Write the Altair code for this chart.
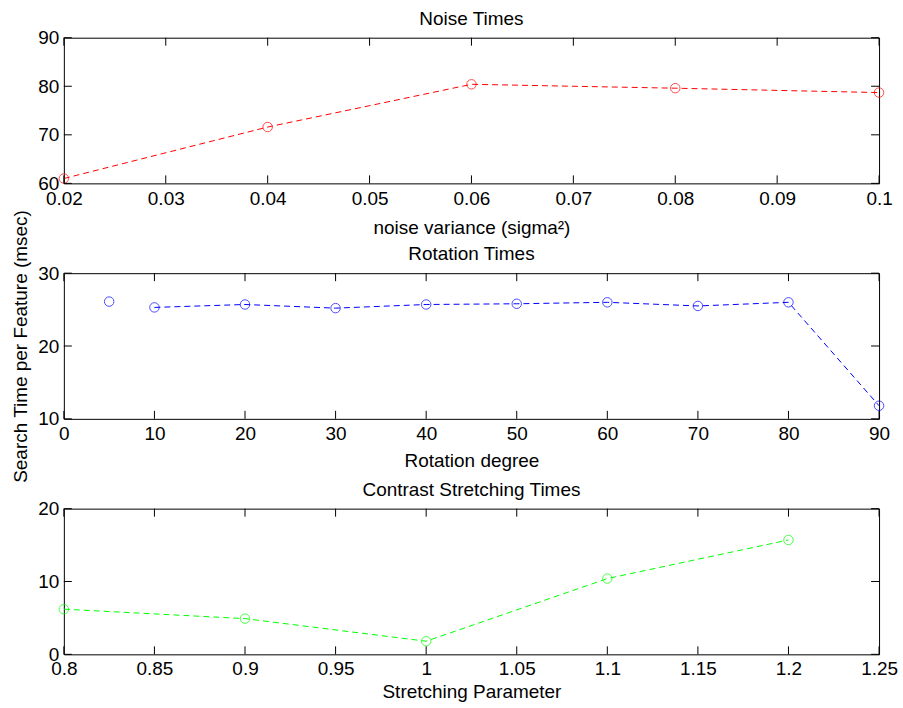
import altair as alt
import pandas as pd

# ---- data ----
noise_x = [0.02, 0.04, 0.06, 0.08, 0.10]
noise_y = [61.0, 71.6, 80.4, 79.6, 78.7]

rot_x = [5, 10, 20, 30, 40, 50, 60, 70, 80, 90]
rot_y = [26.1, 25.3, 25.7, 25.2, 25.7, 25.8, 26.0, 25.5, 26.0, 11.8]

cs_x = [0.8, 0.9, 1.0, 1.1, 1.2]
cs_y = [6.2, 4.9, 1.8, 10.4, 15.7]

noise_xticks = [0.02, 0.03, 0.04, 0.05, 0.06, 0.07, 0.08, 0.09, 0.1]
noise_yticks = [60, 70, 80, 90]
rot_xticks = [0, 10, 20, 30, 40, 50, 60, 70, 80, 90]
rot_yticks = [10, 20, 30]
cs_xticks = [0.8, 0.85, 0.9, 0.95, 1.0, 1.05, 1.1, 1.15, 1.2, 1.25]
cs_yticks = [0, 10, 20]

YTITLE = "Search Time per Feature (msec)"

W, H = 817, 146
GAP = 90
FONT = "Liberation Sans"
FS = 19
TL = 8  # inward tick length
FMT = ".6~g"


def panel(xs, ys, color, title, xtitle, xdom, ydom, xticks, yticks,
          ytitle=None, ytitle_y=0, line_min=None, label_pad=6, title_pad=8):
    df = pd.DataFrame({"x": xs, "y": ys})
    xsc = alt.Scale(domain=xdom, nice=False, zero=False)
    ysc = alt.Scale(domain=ydom, nice=False, zero=False)
    xaxis = alt.Axis(values=xticks, format=FMT, title=xtitle, grid=False,
                     ticks=False, domain=False, labelPadding=label_pad,
                     titlePadding=title_pad, labelFlush=False)
    if ytitle:
        yaxis = alt.Axis(values=yticks, format=FMT, title=ytitle, grid=False,
                         ticks=False, domain=False, labelPadding=5,
                         titlePadding=7, labelFlush=False, titleY=ytitle_y)
    else:
        yaxis = alt.Axis(values=yticks, format=FMT, title=None, grid=False,
                         ticks=False, domain=False, labelPadding=5,
                         labelFlush=False)
    X = alt.X("x:Q", scale=xsc, axis=xaxis)
    Y = alt.Y("y:Q", scale=ysc, axis=yaxis)

    base = alt.Chart(df)
    line_src = base
    if line_min is not None:
        line_src = base.transform_filter(alt.datum.x >= line_min)
    line = line_src.mark_line(color=color, strokeWidth=1, strokeDash=[6, 4]).encode(x=X, y=Y)
    pts = base.mark_point(shape="circle", filled=False, color=color, size=90,
                          strokeWidth=1).encode(x=X, y=Y)

    xt = alt.Chart(pd.DataFrame({"x": xticks}))
    yt = alt.Chart(pd.DataFrame({"y": yticks}))
    tick_style = dict(color="black", strokeWidth=1)
    xb = xt.mark_rule(**tick_style).encode(x=X, y=alt.value(H - TL), y2=alt.value(H))
    xtp = xt.mark_rule(**tick_style).encode(x=X, y=alt.value(0), y2=alt.value(TL))
    yl = yt.mark_rule(**tick_style).encode(y=Y, x=alt.value(0), x2=alt.value(TL))
    yr = yt.mark_rule(**tick_style).encode(y=Y, x=alt.value(W - TL), x2=alt.value(W))

    return alt.layer(line, pts, xb, xtp, yl, yr).properties(
        width=W, height=H,
        title=alt.TitleParams(title, font=FONT, fontSize=FS, fontWeight="normal",
                              color="black", offset=0, anchor="middle", frame="group"),
    )


# the shared y-axis title is carried by the top panel's axis, centred on the middle panel
p1 = panel(noise_x, noise_y, "#ff0000", "Noise Times", "noise variance (sigma²)",
           [0.02, 0.1], [60, 90], noise_xticks, noise_yticks,
           ytitle=YTITLE, ytitle_y=H + GAP + H / 2, label_pad=6, title_pad=10)
p2 = panel(rot_x, rot_y, "#0000ff", "Rotation Times", "Rotation degree",
           [0, 90], [10, 30], rot_xticks, rot_yticks, line_min=10,
           label_pad=6, title_pad=8)
p3 = panel(cs_x, cs_y, "#00ff00", "Contrast Stretching Times", "Stretching Parameter",
           [0.8, 1.25], [0, 20], cs_xticks, cs_yticks, label_pad=5, title_pad=4)

chart = alt.vconcat(p1, p2, p3, spacing=GAP, bounds="flush").properties(
    padding={"left": 11, "top": 8, "right": 5, "bottom": 2},
    background="white",
).configure_view(
    stroke="black", strokeWidth=1
).configure_axis(
    labelFont=FONT, labelFontSize=FS, labelColor="black",
    titleFont=FONT, titleFontSize=FS, titleFontWeight="normal", titleColor="black",
)

chart.save("out.html", embed_options={"renderer": "svg", "actions": False})
